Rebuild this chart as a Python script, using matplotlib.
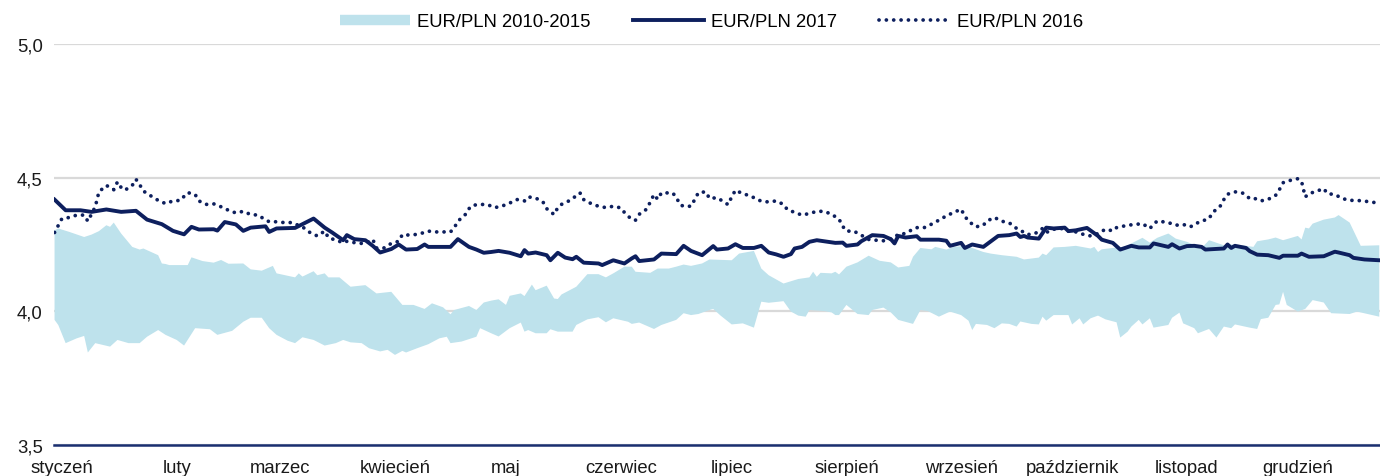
import numpy as np
import matplotlib
matplotlib.use('agg')
import matplotlib.pyplot as plt
from matplotlib.lines import Line2D

# x = day of year (0 = 1 January)
month_names = ['styczeń', 'luty', 'marzec', 'kwiecień', 'maj', 'czerwiec',
               'lipiec', 'sierpień', 'wrzesień', 'październik', 'listopad', 'grudzień']
month_start = [0, 31, 59, 90, 120, 151, 181, 212, 243, 273, 304, 334]
y_ticks = [3.5, 4.0, 4.5, 5.0]
y_labels = ['3,5', '4,0', '4,5', '5,0']

days_2017 = [-2, 1, 5, 8, 12, 16, 20, 23, 27, 30, 33, 35, 37, 41, 42, 44, 47, 49, 51, 55,
             56, 58, 63, 65, 68, 71, 73, 76, 77, 79, 82, 84, 86, 89, 91, 93, 96, 98, 99, 105,
             107, 110, 112, 114, 116, 118, 121, 124, 125, 126, 128, 131, 132, 134, 136, 138, 139, 141,
             145, 146, 149, 152, 154, 155, 156, 160, 162, 166, 168, 170, 173, 176, 177, 180, 182,
             184, 187, 189, 191, 193, 195, 197, 198, 200, 202, 204, 206, 209, 211, 212, 215, 216,
             219, 222, 224, 225, 226, 228, 231, 232, 235, 237, 239, 240, 243, 244, 246, 249, 253,
             256, 258, 259, 260, 261, 264, 266, 268, 271, 272, 274, 277, 280, 281, 284, 286, 289,
             291, 294, 295, 299, 300, 302, 304, 306, 308, 309, 314, 315, 316, 317, 320, 321, 323,
             326, 329, 330, 334, 335, 337, 341, 344, 345, 348, 349, 352, 356]
eurpln_2017 = [4.418, 4.378, 4.378, 4.372, 4.381, 4.372, 4.376, 4.343, 4.326, 4.301, 4.288, 4.316,
               4.306, 4.307, 4.302, 4.334, 4.325, 4.301, 4.313, 4.318,
               4.297, 4.31, 4.312, 4.326, 4.347, 4.313, 4.295, 4.266, 4.285, 4.27, 4.266, 4.245,
               4.22, 4.233, 4.25, 4.231, 4.233, 4.25, 4.241, 4.241,
               4.27, 4.241, 4.231, 4.219, 4.222, 4.226, 4.219, 4.206, 4.229, 4.216, 4.22, 4.21,
               4.191, 4.219, 4.201, 4.195, 4.204, 4.182,
               4.179, 4.173, 4.191, 4.179, 4.198, 4.206, 4.188, 4.194, 4.216, 4.214, 4.245, 4.226,
               4.21, 4.244, 4.231, 4.235, 4.251,
               4.237, 4.237, 4.245, 4.22, 4.213, 4.204, 4.214, 4.235, 4.241, 4.26, 4.266, 4.262,
               4.256, 4.257, 4.245, 4.25, 4.262,
               4.285, 4.282, 4.27, 4.254, 4.282, 4.276, 4.281, 4.268, 4.268, 4.268, 4.264, 4.245,
               4.256, 4.237, 4.25, 4.241, 4.282,
               4.285, 4.291, 4.278, 4.282, 4.276, 4.272, 4.313, 4.31, 4.313, 4.3, 4.303, 4.312,
               4.282, 4.268, 4.256, 4.231, 4.245,
               4.239, 4.239, 4.254, 4.241, 4.251, 4.235, 4.244, 4.245, 4.241, 4.231, 4.235, 4.25,
               4.237, 4.245, 4.237, 4.225, 4.212,
               4.21, 4.2, 4.208, 4.208, 4.216, 4.204, 4.206, 4.223, 4.22, 4.21, 4.2, 4.194, 4.191]

days_2016 = [-2, 0, 2, 4, 6, 7, 9, 10, 12, 14, 15, 16, 17, 19, 20, 21, 22, 24, 26, 28,
             30, 32, 33, 34, 36, 37, 39, 41, 43, 45, 47, 49, 51, 53, 54, 56, 58, 60, 62, 65,
             67, 69, 71, 72, 74, 76, 77, 79, 81, 82, 84, 85, 87, 89, 91, 92, 94, 96, 98, 99,
             101, 104, 105, 106, 107, 109, 110, 111, 114, 115, 117, 119, 121, 123, 125, 126, 128,
             130, 131, 133, 134, 135, 137, 139, 140, 141, 143, 145, 147, 149, 151, 152, 154, 155,
             156, 158, 159, 160, 161, 162, 165, 166, 167, 168, 170, 171, 172, 174, 175, 177, 179,
             180, 181, 182, 184, 186, 188, 189, 191, 193, 195, 196, 198, 200, 202, 204, 206, 208,
             210, 211, 212, 214, 216, 218, 220, 222, 224, 226, 227, 229, 231, 233, 235, 237, 239,
             241, 243, 244, 245, 247, 249, 250, 252, 254, 256, 258, 259, 261, 263, 265, 266, 268,
             270, 272, 274, 276, 278, 280, 282, 284, 285, 288, 290, 292, 294, 295, 296, 299, 301,
             303, 305, 306, 308, 310, 311, 313, 314, 315, 317, 319, 321, 322, 324, 326, 328, 329,
             330, 332, 334, 335, 336, 337, 339, 341, 342, 344, 346, 348, 350, 352, 354, 356]
eurpln_2016 = [4.295, 4.347, 4.351, 4.36, 4.36, 4.337, 4.391, 4.447, 4.471, 4.455, 4.484, 4.463,
               4.453, 4.471, 4.494, 4.474, 4.45, 4.432, 4.415, 4.403,
               4.413, 4.415, 4.43, 4.444, 4.437, 4.413, 4.4, 4.402, 4.391, 4.378, 4.368, 4.374,
               4.362, 4.36, 4.351, 4.335, 4.335, 4.332, 4.332, 4.316,
               4.295, 4.282, 4.3, 4.276, 4.266, 4.257, 4.262, 4.257, 4.254, 4.254, 4.269, 4.237,
               4.237, 4.254, 4.262, 4.287, 4.285, 4.288, 4.295, 4.3,
               4.297, 4.297, 4.297, 4.312, 4.337, 4.362, 4.384, 4.397, 4.4, 4.399, 4.388, 4.394,
               4.405, 4.418, 4.413, 4.428, 4.424,
               4.409, 4.384, 4.362, 4.388, 4.4, 4.413, 4.432, 4.443, 4.418, 4.403, 4.393, 4.388,
               4.393, 4.387, 4.37, 4.343, 4.341,
               4.363, 4.382, 4.409, 4.437, 4.419, 4.443, 4.443, 4.428, 4.399, 4.393, 4.393, 4.418,
               4.444, 4.447, 4.422, 4.425, 4.409,
               4.399, 4.428, 4.453, 4.44, 4.432, 4.418, 4.412, 4.409, 4.413, 4.4, 4.381, 4.37,
               4.36, 4.366, 4.374, 4.374, 4.363,
               4.345, 4.318, 4.3, 4.3, 4.285, 4.269, 4.266, 4.264, 4.27, 4.287, 4.287, 4.3, 4.313,
               4.313, 4.326, 4.341, 4.357,
               4.37, 4.382, 4.356, 4.337, 4.316, 4.322, 4.338, 4.351, 4.337, 4.331, 4.31, 4.303,
               4.287, 4.291, 4.31, 4.295, 4.307,
               4.31, 4.3, 4.297, 4.288, 4.282, 4.291, 4.307, 4.301, 4.313, 4.322, 4.325, 4.328,
               4.31, 4.325, 4.338, 4.332, 4.322,
               4.325, 4.316, 4.326, 4.337, 4.347, 4.37, 4.393, 4.418, 4.438, 4.447, 4.443, 4.422,
               4.424, 4.413, 4.419, 4.434, 4.455,
               4.481, 4.49, 4.496, 4.486, 4.428, 4.44, 4.449, 4.459, 4.44, 4.437, 4.422, 4.415,
               4.415, 4.412, 4.409, 4.403]

# range of EUR/PLN in 2010-2015: upper and lower edge
days_band_hi = [-2, -1, 2, 6, 8, 10, 12, 13, 14, 16, 19, 21, 22, 26, 27, 28, 29, 34, 35, 38,
                41, 43, 45, 49, 51, 54, 57, 58, 63, 64, 65, 68, 69, 71, 72, 75, 78, 82, 85, 89,
                92, 95, 98, 100, 103, 105, 106, 110, 112, 114, 116, 118, 120, 121, 124, 125, 127,
                128, 131, 133, 134, 135, 139, 142, 145, 147, 149, 152, 154, 155, 159, 161, 164,
                166, 168, 170, 173, 175, 181, 183, 187, 189, 191, 195, 199, 202, 203, 204, 205,
                208, 209, 210, 212, 215, 218, 221, 224, 226, 229, 230, 232, 235, 236, 239, 241,
                244, 246, 249, 251, 254, 258, 260, 264, 265, 266, 268, 271, 274, 278, 279, 280,
                281, 284, 287, 289, 292, 294, 296, 299, 301, 304, 308, 310, 314, 316, 319, 322,
                323, 326, 328, 330, 334, 335, 336, 337, 338, 341, 344, 345, 348, 351, 356]
band_hi = [4.303, 4.31, 4.297, 4.278, 4.287, 4.3, 4.322, 4.316, 4.332, 4.291, 4.241, 4.231, 4.235,
           4.21, 4.179, 4.177, 4.173, 4.173, 4.202, 4.188,
           4.182, 4.192, 4.178, 4.179, 4.157, 4.152, 4.17, 4.142, 4.127, 4.142, 4.13, 4.15, 4.135,
           4.142, 4.127, 4.127, 4.092, 4.098, 4.067, 4.073,
           4.024, 4.024, 4.009, 4.03, 4.015, 3.989, 4.005, 4.02, 4.005, 4.033, 4.04, 4.045, 4.024,
           4.058, 4.067, 4.057, 4.1,
           4.079, 4.096, 4.048, 4.046, 4.063, 4.092, 4.139, 4.139, 4.127, 4.142, 4.167, 4.167,
           4.148, 4.144, 4.16, 4.16,
           4.167, 4.175, 4.17, 4.179, 4.194, 4.191, 4.216, 4.226, 4.16, 4.135, 4.104, 4.121,
           4.127, 4.148, 4.129, 4.144,
           4.142, 4.148, 4.138, 4.167, 4.183, 4.208, 4.189, 4.183, 4.164, 4.17, 4.204, 4.237,
           4.232, 4.241, 4.231, 4.241,
           4.245, 4.237, 4.222, 4.216, 4.21, 4.204, 4.194, 4.201, 4.216, 4.21, 4.239, 4.241,
           4.245, 4.235, 4.241, 4.222,
           4.232, 4.237, 4.241, 4.254, 4.275, 4.257, 4.275, 4.291, 4.272, 4.26, 4.237, 4.266,
           4.247, 4.25, 4.247, 4.241,
           4.262, 4.269, 4.276, 4.266, 4.282, 4.269, 4.313, 4.31, 4.328, 4.343, 4.351, 4.36,
           4.332, 4.245, 4.247]

days_band_lo = [-2, -1, 1, 4, 6, 7, 9, 13, 15, 18, 21, 23, 26, 28, 31, 33, 36, 40, 42, 46,
                49, 51, 54, 56, 58, 61, 63, 65, 68, 71, 74, 76, 78, 81, 83, 86, 88, 90, 92, 93,
                96, 99, 102, 104, 105, 108, 112, 113, 116, 118, 121, 124, 125, 126, 128, 131, 132,
                134, 138, 139, 142, 145, 147, 149, 153, 154, 156, 160, 162, 166, 168, 170, 172,
                175, 176, 178, 181, 184, 187, 189, 191, 195, 197, 199, 201, 202, 206, 208, 209,
                210, 212, 215, 218, 219, 222, 224, 226, 230, 232, 234, 237, 240, 243, 245, 246,
                247, 250, 252, 254, 256, 258, 259, 262, 264, 265, 266, 268, 272, 273, 275, 276,
                278, 280, 282, 285, 286, 288, 289, 291, 292, 294, 295, 299, 300, 302, 303, 306,
                307, 310, 312, 314, 316, 317, 321, 323, 324, 326, 328, 329, 330, 331, 334, 336,
                338, 341, 343, 348, 350, 356]
band_lo = [3.968, 3.949, 3.881, 3.899, 3.908, 3.846, 3.881, 3.868, 3.893, 3.881, 3.881, 3.905,
           3.93, 3.912, 3.893, 3.872, 3.937, 3.933, 3.912, 3.927,
           3.961, 3.976, 3.976, 3.937, 3.912, 3.89, 3.881, 3.903, 3.893, 3.872, 3.881, 3.893,
           3.884, 3.881, 3.862, 3.85, 3.856, 3.837, 3.852, 3.846,
           3.862, 3.877, 3.899, 3.905, 3.881, 3.887, 3.905, 3.937, 3.918, 3.906, 3.937, 3.958,
           3.924, 3.93, 3.918, 3.918, 3.933,
           3.924, 3.924, 3.949, 3.97, 3.978, 3.959, 3.974, 3.961, 3.953, 3.958, 3.934, 3.949,
           3.968, 3.993, 3.986, 3.99,
           4.005, 4.009, 3.984, 3.951, 3.955, 3.939, 4.036, 4.032, 4.038, 3.999, 3.984, 3.98,
           4.005, 4.001, 3.996, 3.986,
           3.986, 4.024, 3.99, 3.986, 4.005, 4.014, 3.996, 3.968, 3.953, 4.005, 4.001, 3.98,
           3.999, 3.986, 3.965, 3.93,
           3.953, 3.949, 3.937, 3.955, 3.953, 3.943, 3.962, 3.953, 3.951, 3.98, 3.965, 3.986,
           3.986, 3.951, 3.974, 3.951,
           3.974, 3.984, 3.97, 3.959, 3.902, 3.924, 3.943, 3.968, 3.951, 3.974, 3.939, 3.949,
           3.976, 3.995, 3.955, 3.937,
           3.918, 3.934, 3.902, 3.943, 3.937, 3.951, 3.939, 3.934, 3.971, 3.976, 4.024, 4.026,
           4.073, 4.024, 3.999, 4.009,
           4.042, 4.033, 3.993, 3.99, 3.999, 3.98]

band_color = '#bee2ec'
navy = '#0d1f5e'

fig = plt.figure(figsize=(13.8, 4.77), dpi=100)
ax = fig.add_axes([0.0391, 0.065, 0.9609, 0.8407])
plt.rcParams['font.family'] = ['Liberation Sans', 'DejaVu Sans']

band_x = np.r_[days_band_hi, days_band_lo[::-1]]
band_y = np.r_[band_hi, band_lo[::-1]]
ax.fill(band_x, band_y, color=band_color, lw=0, zorder=2)
ax.plot(days_2017, eurpln_2017, color=navy, lw=2.8, solid_joinstyle='round', zorder=4)
ax.plot(days_2016, eurpln_2016, color=navy, lw=2.7, linestyle=(0, (0.01, 1.95)),
        dash_capstyle='round', zorder=3)

ax.set_xlim(-2.16, 356.2)
ax.set_ylim(3.5, 5.0)
ax.set_yticks(y_ticks)
ax.set_yticklabels(y_labels, fontsize=13.3, family=['Liberation Sans'])
ax.set_xticks(month_start)
ax.set_xticklabels(month_names, fontsize=13.3, family=['Liberation Sans'])
ax.tick_params(axis='both', length=0, colors='#1a1a1a')
ax.tick_params(axis='y', pad=8)
ax.tick_params(axis='x', pad=10)
ax.yaxis.grid(True, color='#d9d9d9', lw=1.6)
ax.set_axisbelow(True)
for s in ['top', 'right', 'left']:
    ax.spines[s].set_visible(False)
ax.spines['bottom'].set_color('#1a2f70')
ax.spines['bottom'].set_linewidth(1.8)

handles = [
    Line2D([], [], color=band_color, lw=7.5, solid_capstyle='butt'),
    Line2D([], [], color=navy, lw=2.8),
    Line2D([], [], color=navy, lw=2.7, linestyle=(0, (0.01, 1.95)), dash_capstyle='round'),
]
labels = ['EUR/PLN 2010-2015', 'EUR/PLN 2017', 'EUR/PLN 2016']
fig.legend(handles, labels, loc='center', bbox_to_anchor=(0.5156, 0.952), ncol=3,
           frameon=False, handlelength=3.8, handletextpad=0.4,
           columnspacing=2.3, prop={'family': 'Liberation Sans', 'size': 13.3})

fig.savefig('out.png', dpi=100)
